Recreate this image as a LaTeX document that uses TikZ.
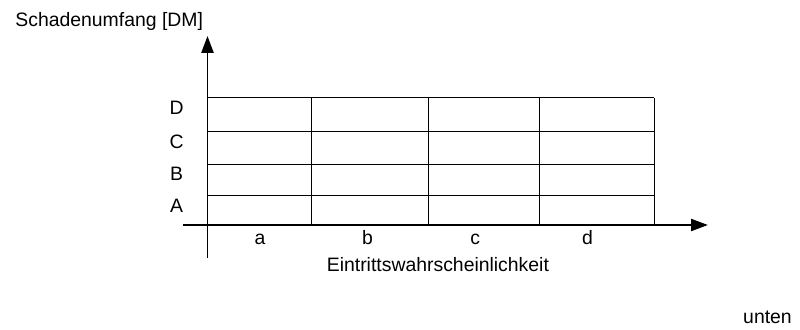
\documentclass[tikz,border=0pt]{standalone}
\usepackage{fontspec}
\setmainfont{Liberation Sans}
\usetikzlibrary{arrows.meta}

\begin{document}
\begin{tikzpicture}[
        axis/.style={line width=1.4pt, -{Triangle[length=0.42cm, width=0.3cm]}},
        gridline/.style={line width=0.7pt},
        lbl/.style={font=\fontsize{13.8}{16}\selectfont, inner sep=0pt}
    ]
        \useasboundingbox (-5.1875,-2.6) rectangle (14.8125,5.625);
        %%%GRID%%%
        \foreach \y in {0.73,1.52,2.35,3.18}
            \draw[gridline] (0,\y)--(11.17,\y);
        \foreach \x in {2.61,5.52,8.29,11.17}
            \draw[gridline] (\x,0)--(\x,3.18);
        %%%AXES%%%
        \coordinate (xs) at (-0.61,0);
        \coordinate (xe) at (12.51,0);
        \coordinate (ys) at (0,-0.825);
        \coordinate (ye) at (0,4.725);
        \draw[axis] (xs)--(xe);
        \draw[axis] (ys)--(ye);
        %rows
        \node[lbl] (rowA) at (-0.77,0.475) {A};
        \node[lbl] (rowB) at (-0.77,1.29) {B};
        \node[lbl] (rowC) at (-0.77,2.08) {C};
        \node[lbl] (rowD) at (-0.77,2.92) {D};
        %columns
        \node[lbl, anchor=base] (cola) at (1.31,-0.475) {a};
        \node[lbl, anchor=base] (colb) at (4.0,-0.475) {b};
        \node[lbl, anchor=base] (colc) at (6.69,-0.475) {c};
        \node[lbl, anchor=base] (cold) at (9.5,-0.475) {d};
        %titles
        \node[lbl, anchor=base west] (ytitle) at (-4.81,4.96) {Schadenumfang [DM]};
        \node[lbl, anchor=base] (xtitle) at (5.76,-1.17) {Eintrittswahrscheinlichkeit};
        \node[lbl, anchor=base] (pos) at (14.0,-2.45) {unten};
    \end{tikzpicture}
\end{document}
